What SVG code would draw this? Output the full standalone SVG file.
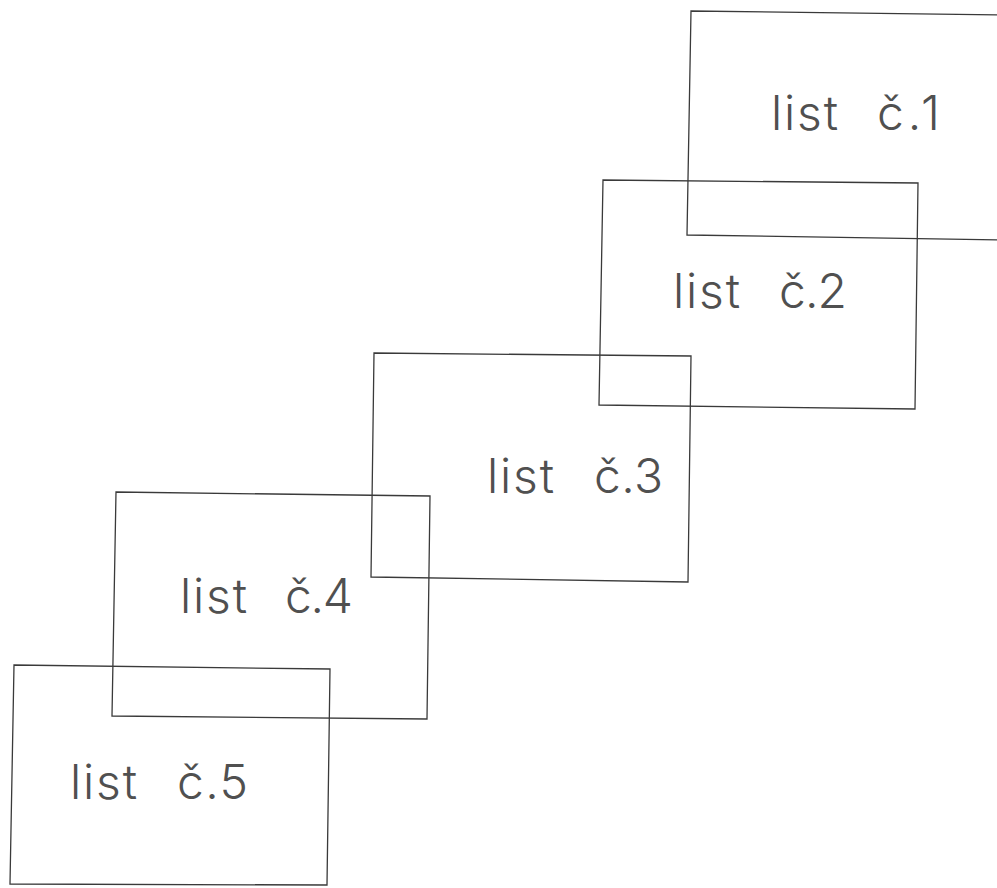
<svg xmlns="http://www.w3.org/2000/svg" width="997" height="888" viewBox="0 0 997 888">
<style>
.sheet{fill:none;stroke:#3a3a3a;stroke-width:1.3}
.lbl{font-family:Inter,"Liberation Sans","DejaVu Sans",sans-serif;font-weight:300;font-size:48px;fill:#505050}
</style>
<rect width="997" height="888" fill="#ffffff"/>
<g id="list1">
<polygon class="sheet" points="691,11 1010,15 1010,240 687,235"/>
<text class="lbl" y="130"><tspan x="771" textLength="67" lengthAdjust="spacing">list</tspan><tspan x="877" textLength="63" lengthAdjust="spacing">č.1</tspan></text>
</g>
<g id="list2">
<polygon class="sheet" points="603,180 918,183 915,409 599,405"/>
<text class="lbl" y="308"><tspan x="673" textLength="67" lengthAdjust="spacing">list</tspan><tspan x="779" textLength="68" lengthAdjust="spacing">č.2</tspan></text>
</g>
<g id="list3">
<polygon class="sheet" points="374,353 691,356 688,582 371,577"/>
<text class="lbl" y="493"><tspan x="487" textLength="67" lengthAdjust="spacing">list</tspan><tspan x="594" textLength="69" lengthAdjust="spacing">č.3</tspan></text>
</g>
<g id="list4">
<polygon class="sheet" points="116,492 430,496 427,719 112,716"/>
<text class="lbl" y="613"><tspan x="180" textLength="67" lengthAdjust="spacing">list</tspan><tspan x="285" textLength="68" lengthAdjust="spacing">č.4</tspan></text>
</g>
<g id="list5">
<polygon class="sheet" points="14,665 330,669 327,885 10,884"/>
<text class="lbl" y="799"><tspan x="70" textLength="67" lengthAdjust="spacing">list</tspan><tspan x="177" textLength="71" lengthAdjust="spacing">č.5</tspan></text>
</g>
<g id="connectors"/>
</svg>
